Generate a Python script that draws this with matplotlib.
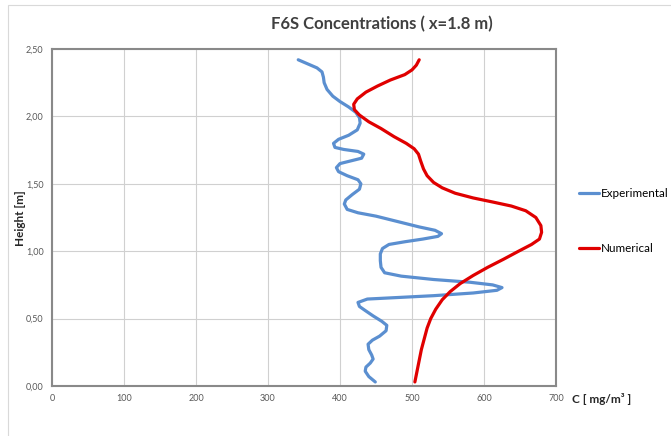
import matplotlib
matplotlib.use("Agg")
import matplotlib.pyplot as plt
from matplotlib.patches import Rectangle
from matplotlib.ticker import FuncFormatter

plt.rcParams['font.family'] = ['Lato', 'DejaVu Sans']

# experimental profile: concentration [mg/m3] vs height [m]
exp_conc = [342, 355, 368, 375, 377, 378, 382, 390, 400, 412, 422, 427, 428, 424, 412, 398,
            391, 393, 405, 425, 433, 430, 415, 400, 395, 398, 410, 425, 429, 427, 417, 408,
            406, 410, 425, 450, 480, 510, 532, 541, 536, 515, 490, 468, 459, 456, 456, 457,
            462, 485, 530, 580, 612, 625, 618, 585, 530, 475, 438, 425, 427, 435, 446, 458,
            465, 464, 455, 445, 439, 440, 444, 446, 442, 436, 435, 440, 449]
exp_height = [2.42, 2.39, 2.36, 2.33, 2.29, 2.25, 2.20, 2.15, 2.11, 2.07, 2.03, 1.99, 1.95,
              1.90, 1.86, 1.83, 1.80, 1.77, 1.755, 1.74, 1.72, 1.69, 1.67, 1.65, 1.62, 1.59,
              1.56, 1.53, 1.50, 1.46, 1.42, 1.38, 1.35, 1.31, 1.285, 1.26, 1.22, 1.18, 1.155,
              1.13, 1.11, 1.09, 1.07, 1.05, 1.02, 0.98, 0.93, 0.88, 0.84, 0.815, 0.79, 0.77,
              0.75, 0.73, 0.71, 0.69, 0.67, 0.655, 0.645, 0.62, 0.59, 0.56, 0.52, 0.48, 0.45,
              0.41, 0.37, 0.34, 0.31, 0.27, 0.23, 0.20, 0.17, 0.14, 0.11, 0.07, 0.03]

# numerical profile
num_conc = [510, 506, 500, 490, 470, 452, 436, 424, 419, 420, 427, 440, 457, 475, 492, 503,
            509, 512, 516, 521, 530, 542, 560, 585, 612, 638, 658, 672, 679, 680, 677, 666,
            648, 627, 605, 585, 567, 553, 542, 533, 526, 521, 517, 513, 510, 507, 504]
num_height = [2.42, 2.38, 2.345, 2.31, 2.27, 2.225, 2.18, 2.13, 2.09, 2.05, 2.01, 1.96, 1.91,
              1.85, 1.80, 1.76, 1.72, 1.67, 1.61, 1.56, 1.51, 1.47, 1.43, 1.395, 1.365, 1.335,
              1.30, 1.25, 1.19, 1.14, 1.09, 1.05, 1.00, 0.94, 0.88, 0.82, 0.76, 0.70, 0.64,
              0.57, 0.50, 0.43, 0.35, 0.27, 0.19, 0.11, 0.03]

x_ticks = [0, 100, 200, 300, 400, 500, 600, 700]
y_ticks = [0.0, 0.5, 1.0, 1.5, 2.0, 2.5]

fig = plt.figure(figsize=(6.71, 4.36), dpi=100)
fig.patches.append(Rectangle((8 / 671, -0.01), 1.0, 1.0 - 5 / 436 + 0.01, transform=fig.transFigure,
                             fill=False, edgecolor='#d9d9d9', linewidth=0.8))

ax = fig.add_axes([52 / 671, 50 / 436, 504 / 671, 337 / 436])
ax.plot(exp_conc, exp_height, color='#5b8fd0', linewidth=2.3, label='Experimental',
        solid_joinstyle='round', solid_capstyle='round')
ax.plot(num_conc, num_height, color='#e00000', linewidth=2.3, label='Numerical',
        solid_joinstyle='round', solid_capstyle='round')

ax.set_xlim(0, 700)
ax.set_ylim(0, 2.5)
ax.set_xticks(x_ticks)
ax.set_yticks(y_ticks)
ax.yaxis.set_major_formatter(FuncFormatter(lambda v, p: f"{v:.2f}".replace('.', ',')))
ax.tick_params(length=0, labelsize=6.5, labelcolor='#595959', pad=6)
ax.grid(True, color='#d0d0d0', linewidth=0.8)
for s in ax.spines.values():
    s.set_color('#898989')
    s.set_linewidth(1.5)

leg = ax.legend(loc='center left', bbox_to_anchor=(573 / 671, 1 - 221 / 436),
                bbox_transform=fig.transFigure, frameon=False, fontsize=8.4,
                handlelength=1.75, handletextpad=0.15, labelspacing=3.8, borderpad=0)

fig.text(382 / 671, 1 - 24 / 436, 'F6S Concentrations ( x=1.8 m)', ha='center', va='center',
         fontsize=12, fontweight='bold', color='#404040')
fig.text(572 / 671, 1 - 399 / 436, 'C [ mg/m³ ]', ha='left', va='center',
         fontsize=8.5, fontweight='bold', color='#262626')
fig.text(20 / 671, 1 - 218 / 436, 'Height [m]', ha='center', va='center', rotation=90,
         fontsize=8.5, fontweight='bold', color='#262626')

fig.savefig('out.png', dpi=100)
